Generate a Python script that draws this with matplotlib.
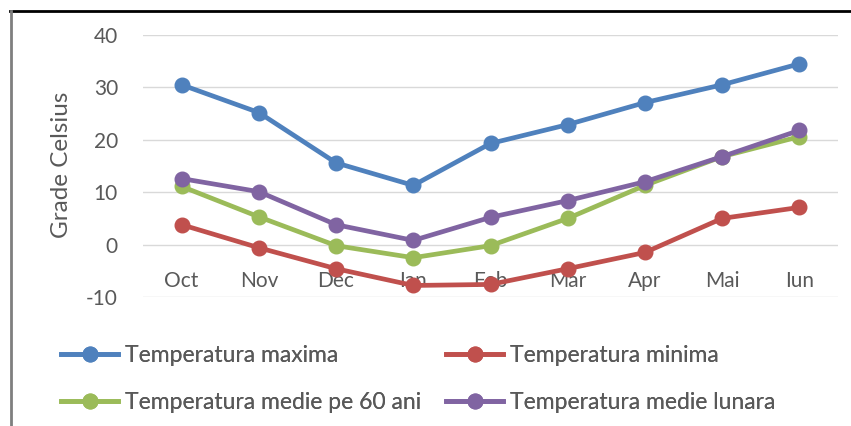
import matplotlib
matplotlib.use("Agg")
import matplotlib.pyplot as plt
from matplotlib.lines import Line2D

plt.rcParams['font.family'] = ['Lato', 'DejaVu Sans']
plt.rcParams['axes.unicode_minus'] = False

luni = ['Oct', 'Nov', 'Dec', 'Ian', 'Feb', 'Mar', 'Apr', 'Mai', 'Iun']
temp_max = [30.5, 25.2, 15.6, 11.3, 19.3, 22.9, 27.1, 30.5, 34.5]
temp_min = [3.8, -0.6, -4.6, -7.8, -7.6, -4.6, -1.5, 5.0, 7.1]
temp_60ani = [11.1, 5.3, -0.2, -2.5, -0.2, 5.0, 11.3, 16.8, 20.6]
temp_lunara = [12.6, 10.1, 3.8, 0.8, 5.2, 8.4, 12.0, 16.8, 21.8]

serii = [
    ('Temperatura maxima', temp_max, '#4F81BD'),
    ('Temperatura minima', temp_min, '#C0504D'),
    ('Temperatura medie pe 60 ani', temp_60ani, '#9BBB59'),
    ('Temperatura medie lunara', temp_lunara, '#8064A2'),
]

text_col = '#595959'

fig = plt.figure(figsize=(8.51, 4.26), dpi=100)
ax = fig.add_axes([143 / 851, 1 - 297 / 426, 695 / 851, 262 / 426])

x = list(range(len(luni)))
handles = {}
for nume, vals, col in serii:
    h, = ax.plot(x, vals, color=col, lw=3.4, marker='o', ms=10.5, label=nume)
    handles[nume] = h

ax.set_xlim(-0.5, len(luni) - 0.5)
ax.set_ylim(-10, 40)
ax.set_yticks(range(-10, 41, 10))
ax.yaxis.grid(True, color='#D9D9D9', lw=1)
ax.set_axisbelow(True)
for s in ax.spines.values():
    s.set_visible(False)

ax.set_xticks(x)
ax.set_xticklabels(luni)
ax.spines['bottom'].set_position(('data', 0))
ax.tick_params(axis='x', length=0, pad=19, labelsize=15, labelcolor=text_col)
ax.tick_params(axis='y', length=0, pad=18, labelsize=15, labelcolor=text_col)

fig.text(61 / 851, 1 - 165 / 426, 'Grade Celsius', rotation=90, ha='center',
         va='center', fontsize=17.5, color=text_col)

# two legend columns, placed separately
coloane = [
    (['Temperatura maxima', 'Temperatura medie pe 60 ani'], 45),
    (['Temperatura minima', 'Temperatura medie lunara'], 430),
]
for nume_l, x0 in coloane:
    leg = fig.legend([handles[k] for k in nume_l], nume_l, loc='upper left',
                     bbox_to_anchor=(x0 / 851, 1 - 329 / 426), frameon=False,
                     fontsize=16.5, handlelength=2.5, handletextpad=0.3,
                     labelspacing=1.12, borderpad=0.2)
    for t in leg.get_texts():
        t.set_color(text_col)
    fig.add_artist(leg)

# chart frame edges
fig.add_artist(Line2D([10 / 851, 1], [1 - 11 / 426, 1 - 11 / 426],
                      transform=fig.transFigure, color='black', lw=2))
fig.add_artist(Line2D([11 / 851, 11 / 851], [0, 1 - 11 / 426],
                      transform=fig.transFigure, color='#7F7F7F', lw=2))

fig.savefig('out.png', dpi=100)
